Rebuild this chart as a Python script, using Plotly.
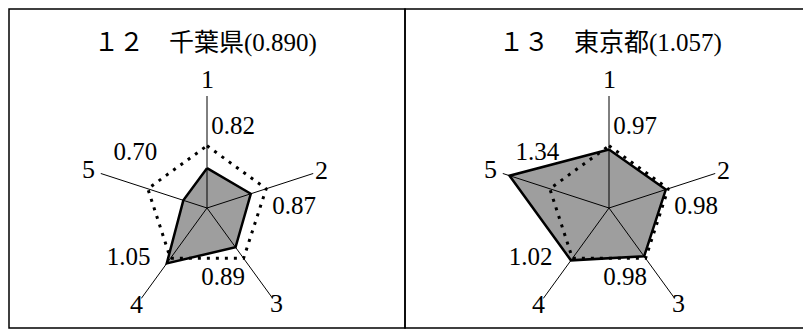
import math
import plotly.graph_objects as go

axis_labels = ["1", "2", "3", "4", "5"]
axis_angles = [0, 72, 144, 216, 288]

titles = ["１２　千葉県(0.890)", "１３　東京都(1.057)"]
chiba = [0.82, 0.87, 0.89, 1.05, 0.70]
tokyo = [0.97, 0.98, 0.98, 1.02, 1.34]
national = [1.0, 1.0, 1.0, 1.0, 1.0]

r_range = [0.5, 1.4]

# where the value labels sit (radial value, angle) - same for both charts
lab_r = [1.18, 1.2, 1.08, 1.25, 1.22]
lab_theta = [18, 90, 167, 237, 307]
# axis-name labels just past the spoke ends (radial units, outside the range)
name_r = [1.53, 1.47, 1.45, 1.46, 1.5]

serif = "Liberation Serif, Noto Sans CJK JP"


def closed(v):
    return list(v) + [v[0]]


fig = go.Figure()

for i, vals in enumerate([chiba, tokyo]):
    pid = "polar" if i == 0 else "polar2"
    # shaded prefecture polygon
    fig.add_trace(go.Scatterpolar(
        r=closed(vals), theta=closed(axis_angles), subplot=pid,
        mode="lines", fill="toself", fillcolor="#9e9e9e",
        line=dict(color="black", width=2.5)))
    # national average = 1.0 (dotted)
    fig.add_trace(go.Scatterpolar(
        r=closed(national), theta=closed(axis_angles), subplot=pid,
        mode="lines", line=dict(color="black", width=3, dash="3px,6px")))
    # spokes drawn over the fill
    for a in axis_angles:
        fig.add_trace(go.Scatterpolar(
            r=r_range, theta=[a, a], subplot=pid, mode="lines",
            line=dict(color="black", width=1)))
    fig.add_trace(go.Scatterpolar(
        r=lab_r, theta=lab_theta, subplot=pid, mode="text",
        text=["%.2f" % v for v in vals],
        textfont=dict(family=serif, size=25, color="black")))

# page body has an 8px margin, so work in page pixels and shift
OFF = 8
W, H = 811 - OFF, 331 - OFF
R = 112
centers = [(207, 208), (609, 208)]


def px(x):
    return (x - OFF) / W


def py(y):
    return 1 - (y - OFF) / H


def dom(cx, cy):
    return dict(x=[px(cx - R), px(cx + R)], y=[py(cy + R), py(cy - R)])


polar_common = dict(
    bgcolor="white",
    gridshape="linear",
    radialaxis=dict(range=r_range, visible=False),
    angularaxis=dict(rotation=90, direction="clockwise",
                     tickmode="array", tickvals=axis_angles,
                     showticklabels=False,
                     showline=False, showgrid=False, ticks=""),
)

fig.update_layout(
    width=W, height=H,
    margin=dict(l=0, r=0, t=0, b=0),
    paper_bgcolor="white",
    showlegend=False,
    hovermode=False,
    polar=dict(domain=dom(*centers[0]), **polar_common),
    polar2=dict(domain=dom(*centers[1]), **polar_common),
)

# axis names, placed past the end of each spoke
scale = R / (r_range[1] - r_range[0])
for cx, cy in centers:
    for lab, a, rr in zip(axis_labels, axis_angles, name_r):
        d = (rr - r_range[0]) * scale
        fig.add_annotation(text=lab, xref="paper", yref="paper",
                           x=px(cx + d * math.sin(math.radians(a))),
                           y=py(cy - d * math.cos(math.radians(a))),
                           xanchor="center", yanchor="middle", showarrow=False,
                           font=dict(family=serif, size=26, color="black"))

# panel frames
for x0, x1 in [(9, 405), (405, 809)]:
    fig.add_shape(type="rect", xref="paper", yref="paper",
                  x0=px(x0), x1=px(x1), y0=py(328), y1=py(9),
                  line=dict(color="black", width=1.5))

for t, cx in zip(titles, [205, 610]):
    fig.add_annotation(text=t, xref="paper", yref="paper",
                       x=px(cx), y=py(43), xanchor="center", yanchor="middle",
                       showarrow=False,
                       font=dict(family=serif, size=25, color="black"))

fig.write_html("out.html")
